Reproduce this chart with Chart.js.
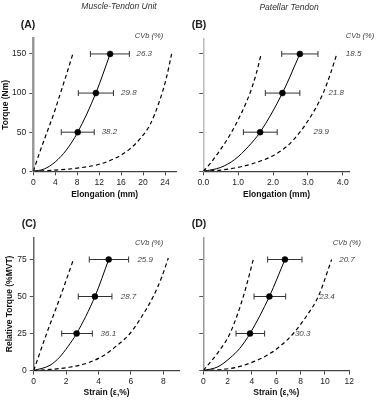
<!DOCTYPE html>
<html>
<head>
<meta charset="utf-8">
<script src="https://cdn.jsdelivr.net/npm/chart.js@4"></script>
<style>
  body { margin: 0; background: #fff; }
  #wrap { position: relative; width: 379px; height: 404px; overflow: hidden; }
  .panel { position: absolute; }
  .txt { position: absolute; transform: translate(-50%, -50%); white-space: nowrap;
         font-family: "Liberation Sans", Arial, sans-serif; color: #222; }
  .head { font-style: italic; font-size: 8.5px; color: #333; }
  .tag { font-weight: bold; font-size: 10.5px; }
</style>
</head>
<body>
<div id="wrap">
  <div class="panel" style="left:0;top:0"><canvas id="chartA" width="190" height="200"></canvas></div>
  <div class="panel" style="left:190px;top:0"><canvas id="chartB" width="189" height="200"></canvas></div>
  <div class="panel" style="left:0;top:200px"><canvas id="chartC" width="190" height="204"></canvas></div>
  <div class="panel" style="left:190px;top:200px"><canvas id="chartD" width="189" height="204"></canvas></div>

  <div class="txt head" style="left:119px;top:6px">Muscle-Tendon Unit</div>
  <div class="txt head" style="left:289px;top:7px">Patellar Tendon</div>
  <div class="txt tag" style="left:28px;top:24px">(A)</div>
  <div class="txt tag" style="left:199px;top:24px">(B)</div>
  <div class="txt tag" style="left:29px;top:223px">(C)</div>
  <div class="txt tag" style="left:199px;top:223px">(D)</div>
</div>

<script>
const FONT = '"Liberation Sans", Arial, sans-serif';

// torque levels (Nm) and relative torque levels (%MVT)
const torqueLevels = [50, 100, 150];
const relLevels = [25, 50, 75];

// (A) muscle-tendon unit elongation (mm)
const mtuMean = [8.1, 11.4, 14.0];
const mtuLo = [5.1, 8.2, 10.4];
const mtuHi = [11.1, 14.6, 17.5];
const mtuCv = ['38.2', '29.8', '26.3'];
const mtuCvX = [12.45, 16.0, 18.8];
const mtuFitX = [0, 2, 4, 6, 8.1, 11.4, 14.0];
const mtuFitY = [0, 3, 12, 27, 50, 100, 150];
const mtuLowX = [0, 1.2, 2.5, 3.8, 4.95, 6.1, 7.2];
const mtuLowY = [0, 25, 50, 75, 100, 125, 150];
const mtuHighX = [0, 4, 8, 12, 15, 17.5, 19.5, 21.3, 23, 24.2, 25.2];
const mtuHighY = [0, 1.5, 4, 9, 17, 28, 42, 60, 90, 118, 150];

// (B) patellar tendon elongation (mm)
const ptMean = [1.63, 2.27, 2.77];
const ptLo = [1.15, 1.78, 2.25];
const ptHi = [2.12, 2.77, 3.29];
const ptCv = ['29.9', '21.8', '18.5'];
const ptCvX = [3.16, 3.59, 4.09];
const ptFitX = [0, 0.5, 0.9, 1.3, 1.63, 2.27, 2.77];
const ptFitY = [0, 5, 15, 32, 50, 100, 150];
const ptLowX = [0, 0.2, 0.45, 0.81, 1.1, 1.34, 1.52, 1.66];
const ptLowY = [0, 10, 25, 50, 75, 100, 125, 150];
const ptHighX = [0, 0.5, 1.05, 1.5, 1.91, 2.4, 2.77, 3.15, 3.44, 3.65, 3.83];
const ptHighY = [0, 1.5, 5.5, 11, 18, 32, 50, 75, 100, 125, 150];

// (C) muscle-tendon unit strain (%)
const mtuStrMean = [2.65, 3.78, 4.63];
const mtuStrLo = [1.73, 2.75, 3.43];
const mtuStrHi = [3.62, 4.83, 5.86];
const mtuStrCv = ['36.1', '28.7', '25.9'];
const mtuStrCvX = [4.13, 5.37, 6.4];
const mtuStrFitX = [0, 1, 1.6, 2.1, 2.65, 3.78, 4.63];
const mtuStrFitY = [0, 3.5, 9, 16, 25, 50, 75];
const mtuStrLowX = [0, 0.8, 1.65, 2.45];
const mtuStrLowY = [0, 25, 50, 75];
const mtuStrHighX = [0, 1, 2.2, 3.3, 4.3, 5.1, 5.94, 6.7, 7.38, 7.9, 8.31];
const mtuStrHighY = [0, 0.7, 2.2, 5, 10, 16.5, 25, 37, 50, 63, 76];

// (D) patellar tendon strain (%)
const ptStrMean = [3.84, 5.43, 6.71];
const ptStrLo = [2.69, 4.17, 5.29];
const ptStrHi = [5.04, 6.77, 8.11];
const ptStrCv = ['30.3', '23.4', '20.7'];
const ptStrCvX = [7.53, 9.53, 11.17];
const ptStrFitX = [0, 1.2, 2.2, 3.0, 3.84, 5.43, 6.71];
const ptStrFitY = [0, 2.5, 8.5, 15, 25, 50, 75];
const ptStrLowX = [0, 1.23, 2.19, 3.29, 4.11];
const ptStrLowY = [0, 12.4, 25, 50, 75];
const ptStrHighX = [0, 1.5, 2.74, 4, 5.2, 6.4, 7.4, 8.5, 9.45, 10.55];
const ptStrHighY = [0, 0.7, 2.2, 5.5, 10.1, 17, 25, 37, 50, 75];

// tick labels
const xTicksA = [0, 4, 8, 12, 16, 20, 24];
const xTicksB = [0, 1, 2, 3, 4];
const xTicksC = [0, 2, 4, 6, 8];
const xTicksD = [0, 2, 4, 6, 8, 10, 12];
const yTicksTorque = [0, 50, 100, 150];
const yTicksRel = [0, 25, 50, 75];

Chart.defaults.font.family = FONT;
Chart.defaults.font.size = 8.5;
Chart.defaults.color = '#222';

const zip = (xs, ys) => xs.map((x, i) => ({ x: x, y: ys[i] }));

// CVb values written next to the error bars
function cvPlugin(texts, xs, levels, headX, headY) {
    return {
        id: 'cvLabels',
        afterDatasetsDraw(chart) {
            const { ctx, scales: { x, y } } = chart;
            ctx.save();
            ctx.fillStyle = '#444';
            ctx.textAlign = 'left';
            ctx.textBaseline = 'middle';
            ctx.font = 'italic 8px ' + FONT;
            texts.forEach((t, i) => ctx.fillText(t, x.getPixelForValue(xs[i]), y.getPixelForValue(levels[i])));
            ctx.font = 'italic 7.5px ' + FONT;
            ctx.fillText('CVb (%)', x.getPixelForValue(headX), y.getPixelForValue(headY));
            ctx.restore();
        }
    };
}

function makePanel(p) {
    const datasets = [];
    // mean points on top
    datasets.push({
        data: zip(p.mean, p.levels),
        showLine: false,
        pointRadius: 3,
        pointBorderWidth: 0.5,
        pointBackgroundColor: '#000',
        pointBorderColor: '#000'
    });
    // error bars
    p.levels.forEach((lv, i) => {
        datasets.push({
            data: [{ x: p.lo[i], y: lv }, { x: p.hi[i], y: lv }],
            showLine: true,
            borderColor: '#333',
            borderWidth: 1,
            pointStyle: 'line',
            rotation: 90,
            pointRadius: 3,
            pointBorderColor: '#333',
            pointBorderWidth: 1
        });
    });
    const curve = (xs, ys, dashed) => ({
        data: zip(xs, ys),
        showLine: true,
        borderColor: '#000',
        borderWidth: dashed ? 1.2 : 1,
        borderDash: dashed ? [4, 3] : [],
        pointRadius: 0,
        cubicInterpolationMode: 'monotone'
    });
    datasets.push(curve(p.fitX, p.fitY, false));
    datasets.push(curve(p.lowX, p.lowY, true));
    datasets.push(curve(p.highX, p.highY, true));

    new Chart(document.getElementById(p.id), {
        type: 'scatter',
        data: { datasets: datasets },
        options: {
            responsive: false,
            animation: false,
            events: [],
            layout: { padding: { left: 0, right: p.padRight, top: p.padTop, bottom: 0 } },
            plugins: { legend: { display: false }, tooltip: { enabled: false } },
            scales: {
                x: {
                    type: 'linear',
                    min: 0,
                    max: p.xMax,
                    afterFit: s => { s.height = p.xHeight; },
                    afterBuildTicks: s => { s.ticks = p.xTicks.map(v => ({ value: v })); },
                    border: { color: '#444', width: 1.3 },
                    grid: { drawOnChartArea: false, drawTicks: true, tickLength: 4, color: '#444' },
                    ticks: {
                        padding: 2,
                        color: '#222',
                        maxRotation: 0,
                        autoSkip: false,
                        callback: v => p.xFmt ? Number(v).toFixed(1) : String(v)
                    },
                    title: {
                        display: true,
                        text: p.xTitle,
                        font: { weight: 'bold', size: 8.5 },
                        color: '#111',
                        padding: { top: 0, bottom: p.xTitlePad }
                    }
                },
                y: {
                    type: 'linear',
                    min: 0,
                    max: p.yMax,
                    afterFit: s => { s.width = p.yWidth; },
                    afterBuildTicks: s => { s.ticks = p.yTicks.map(v => ({ value: v })); },
                    border: { color: p.yBorder, width: p.yBorderW },
                    grid: { drawOnChartArea: false, drawTicks: true, tickLength: 4, color: '#555' },
                    ticks: {
                        padding: 3,
                        color: '#222',
                        autoSkip: false,
                        callback: v => p.yTitle ? String(v) : ''
                    },
                    title: {
                        display: !!p.yTitle,
                        text: p.yTitle || '',
                        font: { weight: 'bold', size: 8.5 },
                        color: '#111',
                        padding: { top: p.yTitlePad, bottom: 0 }
                    }
                }
            }
        },
        plugins: [cvPlugin(p.cv, p.cvX, p.levels, p.headX, p.headY)]
    });
}

makePanel({
    id: 'chartA', levels: torqueLevels, mean: mtuMean, lo: mtuLo, hi: mtuHi,
    cv: mtuCv, cvX: mtuCvX, headX: 18.5, headY: 172.6,
    fitX: mtuFitX, fitY: mtuFitY, lowX: mtuLowX, lowY: mtuLowY, highX: mtuHighX, highY: mtuHighY,
    xMax: 26, yMax: 170, xTicks: xTicksA, yTicks: yTicksTorque,
    xTitle: 'Elongation (mm)', yTitle: 'Torque (Nm)',
    padRight: 14, padTop: 38.3, yWidth: 33.3, xHeight: 28.7, xTitlePad: 0, yTitlePad: 1,
    yBorder: '#999', yBorderW: 2.5
});

makePanel({
    id: 'chartB', levels: torqueLevels, mean: ptMean, lo: ptLo, hi: ptHi,
    cv: ptCv, cvX: ptCvX, headX: 4.09, headY: 172.6,
    fitX: ptFitX, fitY: ptFitY, lowX: ptLowX, lowY: ptLowY, highX: ptHighX, highY: ptHighY,
    xMax: 4.2, yMax: 170, xTicks: xTicksB, yTicks: yTicksTorque, xFmt: true,
    xTitle: 'Elongation (mm)', yTitle: null,
    padRight: 29.3, padTop: 38.3, yWidth: 13.3, xHeight: 28.7, xTitlePad: 0, yTitlePad: 0,
    yBorder: '#bbb', yBorderW: 1.5
});

makePanel({
    id: 'chartC', levels: relLevels, mean: mtuStrMean, lo: mtuStrLo, hi: mtuStrHi,
    cv: mtuStrCv, cvX: mtuStrCvX, headX: 6.25, headY: 86,
    fitX: mtuStrFitX, fitY: mtuStrFitY, lowX: mtuStrLowX, lowY: mtuStrLowY, highX: mtuStrHighX, highY: mtuStrHighY,
    xMax: 9, yMax: 90, xTicks: xTicksC, yTicks: yTicksRel,
    xTitle: 'Strain (\u03b5,%)', yTitle: 'Relative Torque (%MVT)',
    padRight: 10.5, padTop: 37.3, yWidth: 33.7, xHeight: 33.5, xTitlePad: 6, yTitlePad: 5,
    yBorder: '#666', yBorderW: 1.5
});

makePanel({
    id: 'chartD', levels: relLevels, mean: ptStrMean, lo: ptStrLo, hi: ptStrHi,
    cv: ptStrCv, cvX: ptStrCvX, headX: 10.63, headY: 86.4,
    fitX: ptStrFitX, fitY: ptStrFitY, lowX: ptStrLowX, lowY: ptStrLowY, highX: ptStrHighX, highY: ptStrHighY,
    xMax: 12, yMax: 90, xTicks: xTicksD, yTicks: yTicksRel,
    xTitle: 'Strain (\u03b5,%)', yTitle: null,
    padRight: 29.7, padTop: 37.3, yWidth: 13.3, xHeight: 33.5, xTitlePad: 6, yTitlePad: 0,
    yBorder: '#999', yBorderW: 1.5
});
</script>
</body>
</html>
